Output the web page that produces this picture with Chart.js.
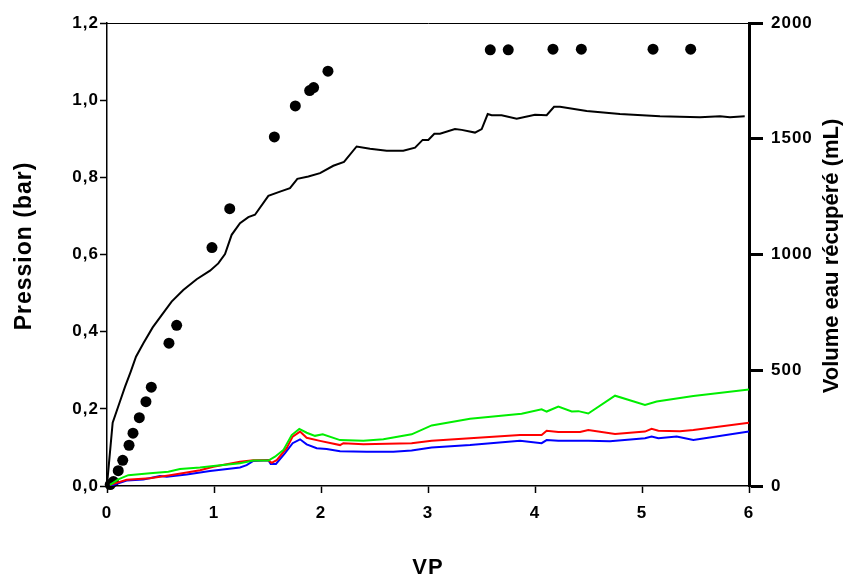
<!DOCTYPE html>
<html>
<head>
<meta charset="utf-8">
<script src="https://cdn.jsdelivr.net/npm/chart.js@4.4.1/dist/chart.umd.min.js"></script>
<style>
  html, body { margin: 0; padding: 0; background: #fff; }
</style>
</head>
<body>
<canvas id="chart" width="851" height="577"></canvas>
<script>
// pressure, black curve (bar)
const vpBlack = [0, 0.053, 0.121, 0.168, 0.221, 0.271, 0.34, 0.427, 0.511, 0.604, 0.713, 0.838, 0.963, 1.04, 1.103, 1.165, 1.243, 1.321, 1.383, 1.508, 1.617, 1.71, 1.779, 1.882, 1.991, 2.115, 2.215, 2.333, 2.458, 2.614, 2.769, 2.879, 2.95, 3.003, 3.059, 3.112, 3.252, 3.315, 3.439, 3.502, 3.558, 3.595, 3.688, 3.829, 4.0, 4.109, 4.178, 4.234, 4.483, 4.794, 5.168, 5.542, 5.729, 5.822, 5.96];
const pBlack = [0.003, 0.164, 0.219, 0.257, 0.296, 0.335, 0.37, 0.411, 0.443, 0.478, 0.508, 0.536, 0.558, 0.577, 0.601, 0.651, 0.681, 0.697, 0.703, 0.752, 0.763, 0.772, 0.796, 0.802, 0.811, 0.83, 0.84, 0.88, 0.874, 0.869, 0.869, 0.877, 0.897, 0.897, 0.913, 0.913, 0.925, 0.923, 0.916, 0.925, 0.964, 0.961, 0.961, 0.952, 0.962, 0.961, 0.983, 0.983, 0.972, 0.964, 0.958, 0.956, 0.958, 0.956, 0.958];

// green curve
const vpGreen = [0.028, 0.106, 0.199, 0.402, 0.573, 0.682, 0.869, 0.994, 1.243, 1.367, 1.508, 1.57, 1.648, 1.726, 1.797, 1.866, 1.944, 2.016, 2.178, 2.396, 2.583, 2.847, 3.034, 3.393, 3.875, 4.062, 4.109, 4.218, 4.343, 4.405, 4.498, 4.748, 5.028, 5.137, 5.48, 6.0];
const pGreen = [0.003, 0.017, 0.028, 0.033, 0.037, 0.044, 0.048, 0.052, 0.059, 0.066, 0.066, 0.076, 0.093, 0.132, 0.148, 0.138, 0.13, 0.134, 0.119, 0.117, 0.121, 0.134, 0.157, 0.174, 0.187, 0.199, 0.193, 0.206, 0.193, 0.194, 0.188, 0.234, 0.21, 0.219, 0.233, 0.25];

// red curve
const vpRed = [0.028, 0.184, 0.402, 0.589, 0.745, 0.869, 0.994, 1.243, 1.367, 1.508, 1.539, 1.586, 1.679, 1.735, 1.804, 1.866, 1.99, 2.178, 2.209, 2.396, 2.847, 3.034, 3.86, 4.062, 4.109, 4.218, 4.421, 4.498, 4.748, 5.028, 5.09, 5.153, 5.355, 5.48, 6.0];
const pRed = [0.003, 0.016, 0.02, 0.028, 0.035, 0.041, 0.05, 0.063, 0.067, 0.067, 0.06, 0.067, 0.098, 0.128, 0.141, 0.125, 0.117, 0.106, 0.111, 0.108, 0.111, 0.117, 0.132, 0.132, 0.143, 0.14, 0.14, 0.145, 0.135, 0.141, 0.148, 0.143, 0.142, 0.145, 0.164];

// blue curve
const vpBlue = [0.028, 0.184, 0.34, 0.495, 0.558, 0.745, 0.963, 1.243, 1.305, 1.367, 1.508, 1.53, 1.579, 1.664, 1.735, 1.804, 1.866, 1.96, 2.053, 2.178, 2.427, 2.676, 2.847, 3.034, 3.393, 3.86, 4.062, 4.109, 4.218, 4.498, 4.701, 5.028, 5.09, 5.153, 5.324, 5.48, 6.0];
const pBlue = [0.0, 0.014, 0.017, 0.026, 0.024, 0.03, 0.039, 0.048, 0.054, 0.065, 0.067, 0.057, 0.057, 0.085, 0.111, 0.121, 0.108, 0.098, 0.096, 0.09, 0.089, 0.089, 0.092, 0.1, 0.106, 0.117, 0.111, 0.119, 0.117, 0.117, 0.116, 0.124, 0.128, 0.124, 0.128, 0.119, 0.141];

// recovered water volume, dots (mL)
const vpVolume = [0.03, 0.06, 0.105, 0.147, 0.206, 0.243, 0.302, 0.364, 0.414, 0.579, 0.651, 0.981, 1.147, 1.564, 1.76, 1.894, 1.931, 2.065, 3.582, 3.75, 4.168, 4.433, 5.103, 5.455];
const volume = [6, 19, 66, 111, 176, 228, 295, 364, 427, 617, 694, 1030, 1198, 1508, 1642, 1708, 1721, 1792, 1884, 1884, 1887, 1887, 1887, 1887];

const xTitle = 'VP';
const yTitle = 'Pression (bar)';
const y2Title = 'Volume eau récupéré (mL)';

const FONT = '"Liberation Sans", Arial, sans-serif';
const zip = (xs, ys) => xs.map((x, i) => ({ x: x, y: ys[i] }));

function lineSet(xs, ys, color) {
    return {
        data: zip(xs, ys),
        showLine: true,
        borderColor: color,
        backgroundColor: color,
        borderWidth: 2,
        pointRadius: 0,
        tension: 0,
        yAxisID: 'y'
    };
}

// both y titles read bottom-to-top; drawn here so they can sit where the original has them
const sideTitles = {
    id: 'sideTitles',
    beforeDraw(chart) {
        chart.ctx.letterSpacing = '1px';
    },
    afterDraw(chart) {
        const ctx = chart.ctx;
        const put = (text, x, y, size, spacing) => {
            ctx.save();
            ctx.translate(x, y);
            ctx.rotate(-Math.PI / 2);
            ctx.letterSpacing = spacing;
            ctx.font = 'bold ' + size + 'px ' + FONT;
            ctx.fillStyle = '#000';
            ctx.textAlign = 'center';
            ctx.textBaseline = 'middle';
            ctx.fillText(text, 0, 0);
            ctx.restore();
        };
        put(yTitle, 25, 246, 23, '1px');
        put(y2Title, 832, 256, 22, '0px');
    }
};

new Chart(document.getElementById('chart').getContext('2d'), {
    type: 'scatter',
    data: {
        datasets: [
            lineSet(vpGreen, pGreen, '#00ee00'),
            lineSet(vpRed, pRed, '#ff0000'),
            lineSet(vpBlue, pBlue, '#0000ff'),
            lineSet(vpBlack, pBlack, '#000000'),
            {
                data: zip(vpVolume, volume),
                showLine: false,
                pointRadius: 5.5,
                pointBackgroundColor: '#000',
                pointBorderWidth: 0,
                clip: false,
                yAxisID: 'y2'
            }
        ]
    },
    options: {
        responsive: false,
        animation: false,
        layout: { padding: 0 },
        plugins: { legend: { display: false }, tooltip: { enabled: false } },
        scales: {
            x: {
                type: 'linear', position: 'bottom', min: 0, max: 6,
                afterFit: s => { s.height = 91; },
                ticks: { stepSize: 1, padding: 10, color: '#000', font: { family: FONT, size: 17, weight: 'bold' } },
                grid: { drawOnChartArea: false, tickLength: 7, tickWidth: 1.5, tickColor: '#000' },
                border: { color: '#000', width: 1.5 },
                title: { display: true, text: xTitle, color: '#000', padding: 0, font: { family: FONT, size: 22, weight: 'bold', lineHeight: 0.8 } }
            },
            xTop: {
                type: 'linear', position: 'top', min: 0, max: 6,
                afterFit: s => { s.height = 23; },
                ticks: { display: false },
                grid: { drawOnChartArea: false, drawTicks: false },
                border: { color: '#000', width: 1 }
            },
            y: {
                type: 'linear', position: 'left', min: 0, max: 1.2,
                afterFit: s => { s.width = 107; },
                ticks: {
                    stepSize: 0.2, padding: 1, color: '#000',
                    font: { family: FONT, size: 17, weight: 'bold' },
                    callback: v => v.toFixed(1).replace('.', ',')
                },
                grid: { drawOnChartArea: false, tickLength: 7, tickWidth: 1.5, tickColor: '#000' },
                border: { color: '#000', width: 1.5 }
            },
            y2: {
                type: 'linear', position: 'right', min: 0, max: 2000,
                afterFit: s => { s.width = 102; },
                ticks: { stepSize: 500, padding: 8, color: '#000', font: { family: FONT, size: 17, weight: 'bold' }, callback: v => String(v) },
                grid: { drawOnChartArea: false, tickLength: 14, tickWidth: 3, tickColor: '#000' },
                border: { color: '#000', width: 3 }
            }
        }
    },
    plugins: [sideTitles]
});
</script>
</body>
</html>
